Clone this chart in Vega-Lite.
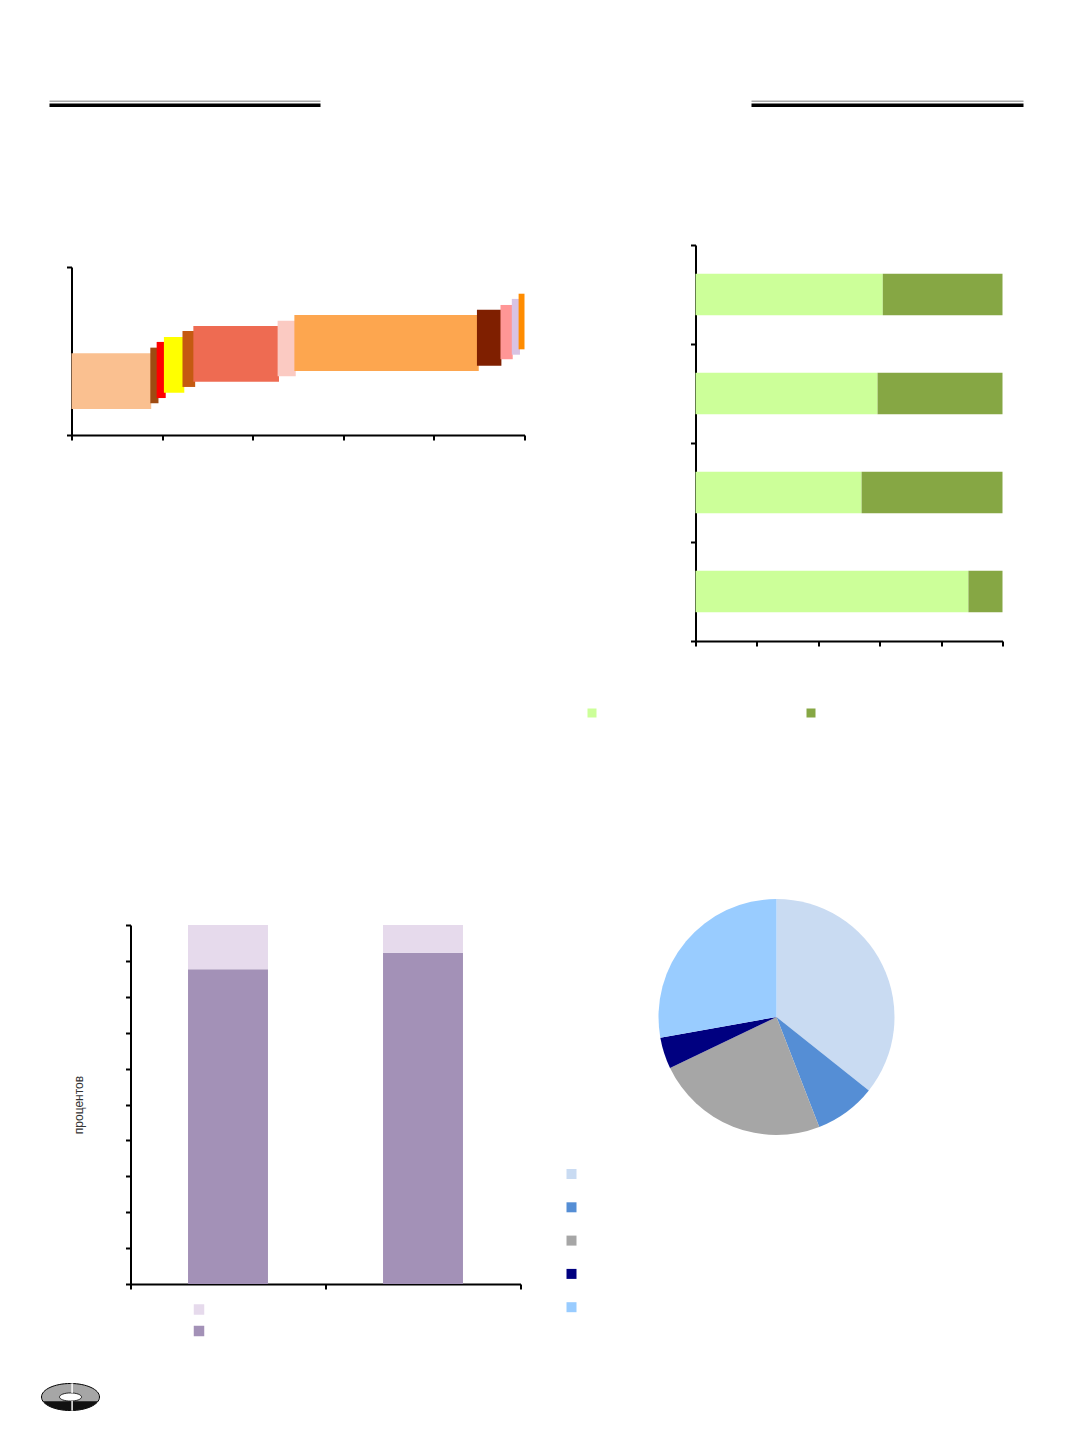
{
  "$schema": "https://vega.github.io/schema/vega-lite/v6.json",
  "padding": {"left": 39.5, "top": 99, "right": 20, "bottom": 10},
  "config": {
    "font": "Liberation Sans",
    "view": {"stroke": null},
    "axis": {
      "labels": false,
      "grid": false,
      "domainColor": "#000000",
      "domainWidth": 2,
      "tickColor": "#000000",
      "tickWidth": 2,
      "tickSize": 5
    },
    "legend": {"padding": 0, "symbolStrokeWidth": 0, "labelFontSize": 8}
  },
  "datasets": {
    "header": [
      {"line": "thin", "from": 0, "to": 1},
      {"line": "thick", "from": 0, "to": 1}
    ],
    "steps": [
      {"seg": "s01", "x0": 0, "x1": 17.6, "y0": 15.5, "y1": 48.6},
      {"seg": "s02", "x0": 17.4, "x1": 19.2, "y0": 18.9, "y1": 52.0},
      {"seg": "s03", "x0": 18.8, "x1": 20.8, "y0": 22.0, "y1": 55.4},
      {"seg": "s04", "x0": 20.4, "x1": 24.9, "y0": 25.2, "y1": 58.3},
      {"seg": "s05", "x0": 24.5, "x1": 27.3, "y0": 28.6, "y1": 61.9},
      {"seg": "s06", "x0": 26.9, "x1": 45.8, "y0": 31.7, "y1": 64.9},
      {"seg": "s07", "x0": 45.5, "x1": 49.5, "y0": 34.9, "y1": 68.0},
      {"seg": "s08", "x0": 49.2, "x1": 89.9, "y0": 38.1, "y1": 71.4},
      {"seg": "s09", "x0": 89.5, "x1": 94.9, "y0": 41.2, "y1": 74.6},
      {"seg": "s10", "x0": 94.7, "x1": 97.4, "y0": 45.1, "y1": 77.4},
      {"seg": "s11", "x0": 97.2, "x1": 99.0, "y0": 47.8, "y1": 81.0},
      {"seg": "s12", "x0": 98.7, "x1": 100, "y0": 51.0, "y1": 84.1}
    ],
    "shares": [
      {"row": "1", "part": "light", "k": 1, "value": 61.0},
      {"row": "1", "part": "dark", "k": 2, "value": 39.0},
      {"row": "2", "part": "light", "k": 1, "value": 59.3},
      {"row": "2", "part": "dark", "k": 2, "value": 40.7},
      {"row": "3", "part": "light", "k": 1, "value": 54.1},
      {"row": "3", "part": "dark", "k": 2, "value": 45.9},
      {"row": "4", "part": "light", "k": 1, "value": 88.9},
      {"row": "4", "part": "dark", "k": 2, "value": 11.1}
    ],
    "mix": [
      {"col": "1", "part": "bottom", "k": 1, "value": 87.7},
      {"col": "1", "part": "top", "k": 2, "value": 12.3},
      {"col": "2", "part": "bottom", "k": 1, "value": 92.3},
      {"col": "2", "part": "top", "k": 2, "value": 7.7}
    ],
    "pie": [
      {"slice": "p1", "k": 1, "share": 35.7},
      {"slice": "p2", "k": 2, "share": 8.4},
      {"slice": "p3", "k": 3, "share": 23.8},
      {"slice": "p4", "k": 4, "share": 4.3},
      {"slice": "p5", "k": 5, "share": 27.8}
    ],
    "logo": [{"part": "logo"}]
  },
  "spacing": 0,
  "resolve": {
    "scale": {"color": "independent", "strokeWidth": "independent"},
    "legend": {"color": "independent"}
  },
  "vconcat": [
    {
      "spacing": 431,
      "bounds": "flush",
      "resolve": {"scale": {"color": "independent", "strokeWidth": "independent"}},
      "hconcat": [
        {
          "width": 271,
          "height": 145,
          "data": {"name": "header"},
          "mark": {"type": "rule"},
          "encoding": {
            "x": {"field": "from", "type": "quantitative", "scale": {"domain": [0, 1]}, "axis": null},
            "x2": {"field": "to"},
            "y": {"field": "line", "type": "nominal", "scale": {"type": "point", "domain": ["thin", "thick"], "range": [2.3, 6.2], "padding": 0}, "axis": null},
            "color": {"field": "line", "type": "nominal", "scale": {"domain": ["thin", "thick"], "range": ["#AAAAAA", "#000000"]}, "legend": null},
            "strokeWidth": {"field": "line", "type": "ordinal", "scale": {"domain": ["thin", "thick"], "range": [1.5, 3.6]}, "legend": null}
          }
        },
        {
          "width": 272,
          "height": 145,
          "data": {"name": "header"},
          "mark": {"type": "rule"},
          "encoding": {
            "x": {"field": "from", "type": "quantitative", "scale": {"domain": [0, 1]}, "axis": null},
            "x2": {"field": "to"},
            "y": {"field": "line", "type": "nominal", "scale": {"type": "point", "domain": ["thin", "thick"], "range": [2.3, 6.2], "padding": 0}, "axis": null},
            "color": {"field": "line", "type": "nominal", "scale": {"domain": ["thin", "thick"], "range": ["#AAAAAA", "#000000"]}, "legend": null},
            "strokeWidth": {"field": "line", "type": "ordinal", "scale": {"domain": ["thin", "thick"], "range": [1.5, 3.6]}, "legend": null}
          }
        }
      ]
    },
    {
      "spacing": 171,
      "bounds": "flush",
      "resolve": {"scale": {"color": "independent"}, "legend": {"color": "independent"}},
      "hconcat": [
        {
          "width": 475,
          "height": 190,
          "data": {"name": "steps"},
          "mark": {"type": "rect"},
          "encoding": {
            "x": {
              "field": "x0", "type": "quantitative",
              "scale": {"domain": [0, 100], "range": [22, 475], "nice": false},
              "axis": {"values": [0, 20, 40, 60, 80, 100], "title": null}
            },
            "x2": {"field": "x1"},
            "y": {
              "field": "y0", "type": "quantitative",
              "scale": {"domain": [0, 100], "range": [190, 22], "nice": false},
              "axis": {"values": [0, 100], "offset": -22, "title": null}
            },
            "y2": {"field": "y1"},
            "color": {
              "field": "seg", "type": "nominal",
              "scale": {
                "domain": ["s01", "s02", "s03", "s04", "s05", "s06", "s07", "s08", "s09", "s10", "s11", "s12"],
                "range": ["#FAC090", "#9E4B12", "#FF0000", "#FFFF00", "#C55A11", "#EE6B52", "#FBCAC2", "#FDA64F", "#7F1F00", "#FF9696", "#D9C3E3", "#FF8C00"]
              },
              "legend": null
            }
          }
        },
        {
          "width": 307,
          "height": 654,
          "data": {"name": "shares"},
          "mark": {"type": "bar", "height": {"band": 0.42}},
          "encoding": {
            "y": {
              "field": "row", "type": "ordinal",
              "scale": {"domain": ["1", "2", "3", "4"], "range": [0, 396], "paddingInner": 0, "paddingOuter": 0},
              "axis": {"tickBand": "extent", "title": null}
            },
            "x": {
              "field": "value", "type": "quantitative", "stack": "zero",
              "scale": {"domain": [0, 100], "nice": false},
              "axis": {"values": [0, 20, 40, 60, 80, 100], "offset": -258, "title": null}
            },
            "color": {
              "field": "part", "type": "nominal",
              "scale": {"domain": ["light", "dark"], "range": ["#CCFF99", "#86A744"]},
              "legend": {
                "orient": "none", "legendX": -108, "legendY": 463.5,
                "direction": "horizontal", "title": null, "labelExpr": "''",
                "symbolType": "square", "symbolSize": 81, "columnPadding": 206
              }
            },
            "order": {"field": "k"}
          }
        }
      ]
    },
    {
      "spacing": 138,
      "bounds": "flush",
      "resolve": {"scale": {"color": "independent"}, "legend": {"color": "independent"}},
      "hconcat": [
        {
          "width": 471,
          "height": 385,
          "data": {"name": "mix"},
          "mark": {"type": "bar", "width": {"band": 0.41}},
          "encoding": {
            "x": {
              "field": "col", "type": "ordinal",
              "scale": {"domain": ["1", "2"], "range": [81, 471], "paddingInner": 0, "paddingOuter": 0},
              "axis": {"tickBand": "extent", "title": null}
            },
            "y": {
              "field": "value", "type": "quantitative", "stack": "zero",
              "scale": {"domain": [0, 100], "range": [385, 26], "nice": false},
              "axis": {
                "values": [0, 10, 20, 30, 40, 50, 60, 70, 80, 90, 100],
                "offset": -81,
                "title": "процентов",
                "titleFont": "Liberation Sans",
                "titleFontSize": 12,
                "titleFontWeight": "normal",
                "titleColor": "#333333",
                "titlePadding": 39
              }
            },
            "color": {
              "field": "part", "type": "nominal",
              "scale": {"domain": ["top", "bottom"], "range": ["#E6DAEC", "#A391B7"]},
              "legend": {
                "orient": "none", "legendX": 144, "legendY": 405,
                "direction": "vertical", "title": null, "labelExpr": "''",
                "symbolType": "square", "symbolSize": 110, "rowPadding": 10.5
              }
            },
            "order": {"field": "k"}
          }
        },
        {
          "width": 236,
          "height": 236,
          "data": {"name": "pie"},
          "mark": {"type": "arc", "outerRadius": 118},
          "encoding": {
            "theta": {"field": "share", "type": "quantitative", "stack": true},
            "order": {"field": "k"},
            "color": {
              "field": "slice", "type": "nominal",
              "scale": {"domain": ["p1", "p2", "p3", "p4", "p5"], "range": ["#C9DBF2", "#558ED5", "#A6A6A6", "#000080", "#99CCFF"]},
              "legend": {
                "orient": "none", "legendX": -92, "legendY": 270,
                "direction": "vertical", "title": null, "labelExpr": "''",
                "symbolType": "square", "symbolSize": 100, "rowPadding": 23.3
              }
            }
          }
        }
      ]
    },
    {
      "width": 42,
      "height": 120,
      "data": {"name": "logo"},
      "layer": [
        {
          "mark": {
            "type": "point", "filled": true, "opacity": 1, "size": 3364,
            "shape": "M -1 0 A 1 0.466 0 1 1 1 0 A 1 0.466 0 1 1 -1 0 Z",
            "color": "#A6A6A6", "stroke": "#000000", "strokeWidth": 1
          },
          "encoding": {}
        },
        {
          "mark": {
            "type": "point", "filled": true, "opacity": 1, "size": 3364,
            "shape": "M -0.947 0.15 L 0.947 0.15 A 1 0.466 0 0 1 -0.947 0.15 Z",
            "color": "#111111"
          },
          "encoding": {}
        },
        {
          "mark": {
            "type": "point", "filled": true, "opacity": 1, "size": 3364,
            "shape": "M -0.38 0 A 0.38 0.14 0 1 1 0.38 0 A 0.38 0.14 0 1 1 -0.38 0 Z",
            "color": "#FFFFFF", "stroke": "#000000", "strokeWidth": 0.8
          },
          "encoding": {}
        },
        {
          "mark": {
            "type": "point", "filled": true, "opacity": 1, "size": 3364,
            "shape": "M 0.03 -0.47 L 0.08 -0.47 L 0.08 -0.14 L 0.03 -0.14 Z M 0.03 0.14 L 0.08 0.14 L 0.08 0.47 L 0.03 0.47 Z",
            "color": "#FFFFFF"
          },
          "encoding": {}
        }
      ]
    }
  ]
}
